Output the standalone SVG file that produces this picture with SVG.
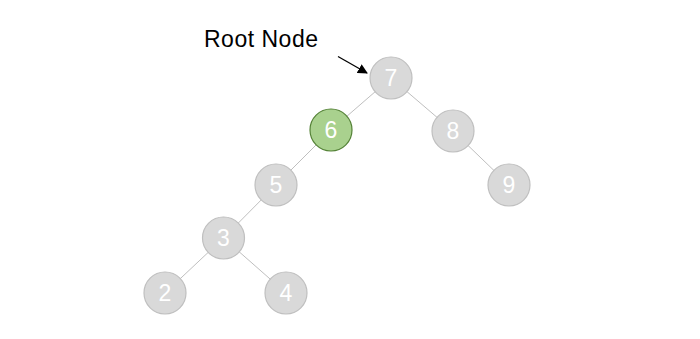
<svg xmlns="http://www.w3.org/2000/svg" width="700" height="339" viewBox="0 0 700 339">
<defs>
<style>
.n circle{fill:#d9d9d9;stroke:#bfbfbf;stroke-width:1.2}
.n.g circle{fill:#a9d18e;stroke:#538135;stroke-width:1.2}
.n text{fill:#fff;font-family:"Liberation Sans",Arial,sans-serif;font-size:23px;text-anchor:middle}
.e line{stroke:#bfbfbf;stroke-width:1}
</style>
<marker id="ah" viewBox="0 0 10 10" refX="9" refY="5" markerWidth="10" markerHeight="10" markerUnits="userSpaceOnUse" orient="auto">
<path d="M0,0 L10,5 L0,10 z" fill="#000"/>
</marker>
</defs>
<rect width="700" height="339" fill="#fff"/>
<g id="connectors" class="e">
<line x1="391" y1="78" x2="331" y2="130"/>
<line x1="391" y1="78" x2="453" y2="131"/>
<line x1="453" y1="131" x2="509" y2="185"/>
<line x1="331" y1="130" x2="276" y2="185"/>
<line x1="276" y1="185" x2="223.5" y2="238"/>
<line x1="223.5" y1="238" x2="165" y2="293"/>
<line x1="223.5" y1="238" x2="286" y2="293"/>
<line x1="338" y1="56.5" x2="367" y2="73" style="stroke:#000;stroke-width:1.3" marker-end="url(#ah)"/>
</g>
<g id="label"><text x="204" y="47" font-family="'Liberation Sans',Arial,sans-serif" font-size="23" fill="#000" textLength="114">Root Node</text></g>
<g id="n7" class="n"><circle cx="391" cy="78" r="21"/><text x="391" y="86">7</text></g>
<g id="n6" class="n g"><circle cx="331" cy="130" r="21"/><text x="331" y="138">6</text></g>
<g id="n8" class="n"><circle cx="453" cy="131" r="21"/><text x="453" y="139">8</text></g>
<g id="n9" class="n"><circle cx="509" cy="185" r="21"/><text x="509" y="193">9</text></g>
<g id="n5" class="n"><circle cx="276" cy="185" r="21"/><text x="276" y="193">5</text></g>
<g id="n3" class="n"><circle cx="223.5" cy="238" r="21"/><text x="223.5" y="246">3</text></g>
<g id="n2" class="n"><circle cx="165" cy="293" r="21"/><text x="165" y="301">2</text></g>
<g id="n4" class="n"><circle cx="286" cy="293" r="21"/><text x="286" y="301">4</text></g>
</svg>
